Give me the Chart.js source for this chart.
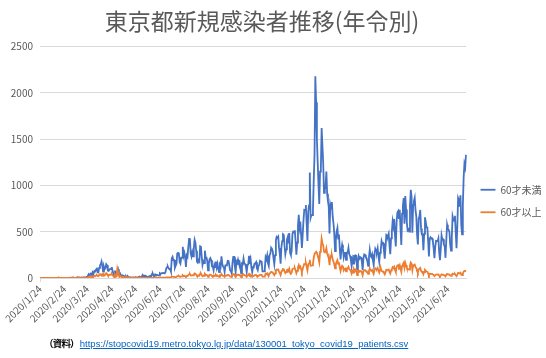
<!DOCTYPE html>
<html lang="ja">
<head>
<meta charset="utf-8">
<title>東京都新規感染者推移(年令別)</title>
<script src="https://cdn.jsdelivr.net/npm/chart.js"></script>
<style>
  html, body { margin: 0; padding: 0; background: #fff; }
  .wrap { position: relative; width: 546px; height: 358px; overflow: hidden; }
  canvas { display: block; }
  .source { position: absolute; left: 44px; top: 336px; font-size: 9.5px; font-family: 'Liberation Sans', 'Noto Sans CJK JP', sans-serif; color: #000; white-space: nowrap; }
  .source b { font-family: 'Noto Sans CJK JP', sans-serif; font-weight: bold; letter-spacing: -0.8px; margin-right: 1px; }
  .source a { color: #0563c1; text-decoration: underline; }
</style>
</head>
<body>
<div class="wrap">
  <canvas id="covidChart" width="546" height="358"></canvas>
  <div class="source"><b>（資料）</b><a href="https://stopcovid19.metro.tokyo.lg.jp/data/130001_tokyo_covid19_patients.csv">https://stopcovid19.metro.tokyo.lg.jp/data/130001_tokyo_covid19_patients.csv</a></div>
</div>
<script>
const START_DATE = '2020-01-24'

const TICK_LABELS = [
  '2020/1/24', '2020/2/24', '2020/3/24', '2020/4/24', '2020/5/24', '2020/6/24',
  '2020/7/24', '2020/8/24', '2020/9/24', '2020/10/24', '2020/11/24', '2020/12/24',
  '2021/1/24', '2021/2/24', '2021/3/24', '2021/4/24', '2021/5/24', '2021/6/24'
]

const SERIES_NAMES = ['60才未満', '60才以上']
const Y_TICKS = [0, 500, 1000, 1500, 2000, 2500]

// daily counts, one row per month
const UNDER_60 = [
  1, 0, 0, 0, 0, 0, 1, 0, // 2020/1 (24-)
  0, 0, 0, 0, 0, 0, 0, 0, 0, 0, 0, 0, 1, 0, 2, 1, 2, 1, 1, 0, 1, 1, 0, 1, 1, 2, 0, 1, 1,
  1, 3, 2, 3, 4, 5, 2, 1, 2, 3, 4, 6, 2, 5, 3, 1, 4, 3, 5, 2, 5, 2, 12, 13, 30, 38, 30, 48, 50, 10, 60,
  50, 75, 70, 90, 112, 62, 60, 110, 138, 148, 178, 128, 68, 122, 95, 112, 150, 138, 80, 76, 90, 98, 96, 118, 74, 52, 28, 80, 33, 30,
  65, 95, 62, 60, 40, 26, 15, 27, 24, 15, 10, 18, 6, 20, 5, 9, 3, 7, 3, 3, 8, 2, 1, 10, 5, 7, 8, 11, 16, 10, 4,
  12, 31, 11, 26, 18, 24, 13, 12, 11, 16, 20, 23, 22, 44, 45, 25, 14, 38, 32, 36, 33, 27, 29, 51, 44, 50, 53, 56, 54, 50,
  63, 101, 117, 124, 105, 96, 99, 70, 210, 228, 194, 194, 111, 133, 153, 266, 272, 268, 173, 155, 219, 219, 337, 239, 271, 219, 119, 244, 229, 335, 423,
  430, 265, 232, 278, 235, 322, 412, 382, 294, 175, 166, 195, 181, 343, 338, 228, 141, 180, 162, 295, 224, 222, 184, 82, 157, 203, 215, 193, 126, 126, 84,
  143, 118, 178, 114, 153, 98, 64, 142, 124, 234, 157, 122, 123, 67, 136, 136, 144, 186, 184, 137, 82, 74, 49, 165, 229, 229, 124, 65, 178, 162,
  198, 164, 174, 120, 49, 155, 148, 209, 156, 151, 123, 65, 139, 148, 240, 154, 198, 111, 65, 116, 125, 155, 156, 171, 104, 85, 132, 143, 186, 181, 176,
  72, 72, 71, 101, 224, 201, 244, 157, 130, 243, 263, 326, 310, 292, 212, 149, 247, 409, 443, 433, 447, 325, 261, 154, 333, 399, 473, 466, 347, 258,
  309, 415, 442, 373, 485, 271, 248, 292, 475, 500, 494, 515, 398, 253, 382, 563, 682, 551, 611, 461, 325, 467, 621, 737, 734, 788, 588, 399, 710, 784, 1140,
  650, 680, 680, 730, 1060, 1330, 2180, 1900, 1500, 1250, 1010, 800, 1150, 1180, 1620, 1430, 1240, 920, 960, 990, 1150, 910, 830, 770, 480, 790, 750, 820, 665, 590, 485,
  290, 410, 500, 540, 425, 470, 315, 200, 300, 360, 315, 225, 270, 270, 195, 275, 275, 325, 258, 238, 198, 130, 200, 155, 248, 197, 245, 240,
  90, 170, 235, 210, 225, 220, 175, 85, 215, 255, 250, 228, 215, 178, 130, 225, 305, 242, 227, 256, 192, 140, 252, 315, 295, 282, 322, 235, 175, 273, 310,
  399, 370, 375, 298, 209, 335, 466, 458, 451, 479, 354, 257, 428, 496, 612, 560, 638, 456, 340, 597, 708, 723, 638, 736, 533, 357, 696, 777, 863, 586,
  885, 741, 598, 515, 526, 501, 770, 953, 878, 488, 790, 830, 866, 734, 665, 468, 362, 635, 666, 735, 536, 470, 469, 299, 478, 656, 605, 548, 546, 400, 232,
  425, 440, 426, 428, 396, 320, 214, 337, 402, 402, 398, 428, 279, 192, 310, 461, 416, 418, 358, 347, 218, 403, 574, 529, 522, 497, 359, 295, 444, 667,
  630, 618, 672, 487, 321, 556, 865, 842, 772, 893, 577, 472, 780, 1082, 1232, 1196, 1330 // 2021/7 (-17)
]

const OVER_60 = [
  0, 1, 0, 0, 0, 0, 0, 0,
  0, 0, 0, 0, 0, 0, 0, 0, 0, 0, 0, 0, 1, 2, 2, 2, 3, 1, 1, 1, 1, 0, 1, 0, 1, 1, 1, 0, 0,
  1, 1, 1, 2, 3, 1, 2, 1, 0, 2, 2, 1, 3, 1, 2, 1, 2, 4, 4, 3, 2, 1, 4, 4, 11, 9, 10, 15, 18, 3, 18,
  16, 22, 19, 26, 31, 21, 19, 34, 40, 41, 27, 38, 23, 39, 32, 37, 51, 43, 27, 26, 33, 34, 38, 43, 29, 20, 11, 32, 14, 16,
  100, 65, 29, 27, 18, 12, 8, 12, 12, 7, 5, 10, 4, 10, 4, 5, 2, 3, 2, 2, 3, 1, 1, 4, 3, 3, 3, 4, 6, 4, 1,
  1, 3, 1, 2, 2, 2, 1, 1, 1, 2, 2, 2, 2, 3, 3, 2, 2, 3, 3, 3, 2, 2, 2, 4, 4, 4, 4, 4, 4, 4,
  4, 6, 7, 7, 6, 6, 7, 5, 14, 15, 12, 12, 8, 10, 12, 20, 21, 22, 15, 13, 18, 19, 29, 21, 24, 20, 12, 22, 21, 32, 40,
  42, 27, 26, 31, 28, 38, 50, 47, 37, 22, 22, 27, 25, 46, 47, 32, 20, 27, 24, 44, 34, 34, 28, 13, 25, 33, 35, 33, 22, 22, 16,
  27, 23, 33, 22, 28, 18, 13, 28, 25, 42, 30, 24, 23, 13, 27, 27, 28, 34, 34, 25, 16, 14, 10, 30, 41, 41, 24, 13, 34, 32,
  37, 32, 33, 23, 10, 30, 29, 39, 30, 29, 23, 13, 27, 29, 44, 30, 37, 21, 13, 23, 25, 30, 30, 32, 20, 17, 26, 28, 35, 34, 33,
  15, 15, 15, 21, 45, 41, 50, 32, 27, 50, 54, 67, 64, 60, 43, 31, 51, 84, 91, 89, 92, 66, 53, 32, 68, 82, 97, 95, 71, 53,
  63, 85, 91, 76, 99, 56, 51, 60, 97, 102, 101, 106, 82, 52, 78, 115, 140, 113, 125, 95, 67, 96, 127, 151, 150, 161, 120, 82, 146, 160, 197,
  133, 134, 136, 154, 218, 261, 272, 282, 268, 244, 209, 170, 283, 322, 424, 379, 352, 284, 280, 284, 321, 265, 240, 216, 138, 236, 223, 244, 203, 179, 148,
  103, 146, 176, 194, 152, 169, 114, 76, 112, 131, 119, 82, 99, 101, 71, 103, 103, 120, 95, 89, 74, 48, 75, 58, 92, 73, 92, 89,
  31, 62, 81, 69, 76, 73, 62, 31, 75, 85, 85, 76, 74, 61, 45, 75, 104, 81, 76, 86, 64, 47, 85, 105, 99, 94, 108, 78, 59, 91, 104,
  76, 70, 71, 57, 40, 64, 89, 87, 86, 91, 67, 49, 82, 95, 117, 107, 121, 87, 65, 114, 135, 138, 121, 140, 102, 68, 132, 148, 164, 112,
  165, 138, 110, 94, 95, 90, 137, 168, 154, 85, 135, 139, 144, 120, 107, 74, 57, 97, 100, 108, 78, 67, 66, 41, 65, 87, 79, 70, 68, 49, 28,
  46, 47, 45, 44, 40, 31, 21, 32, 38, 37, 37, 39, 25, 17, 27, 40, 36, 35, 30, 29, 18, 32, 45, 41, 40, 37, 27, 22, 32, 47,
  43, 42, 44, 31, 21, 37, 55, 54, 50, 57, 37, 30, 50, 67, 76, 75, 80
]

// one category per day starting at START_DATE
const labels = []
const start = new Date(START_DATE + 'T00:00:00Z')
for (let i = 0; i < UNDER_60.length; i++) {
  const d = new Date(start.getTime() + i * 86400000)
  labels.push(`${d.getUTCFullYear()}/${d.getUTCMonth() + 1}/${d.getUTCDate()}`)
}

const FONT = "'Noto Sans CJK JP', 'Noto Sans', sans-serif"
const GRAY = '#595959'
const GRID = '#d9d9d9'

const isTick = i => TICK_LABELS.includes(labels[i])

// move title / legend to where Excel had them
const nudge = {
  id: 'nudge',
  afterLayout(chart) {
    chart.titleBlock.right -= 22
    chart.legend.left += 2
    chart.legend.right += 2
    chart.legend.top += 22
    chart.legend.bottom += 22
  }
}

new Chart(document.getElementById('covidChart'), {
  type: 'line',
  data: {
    labels: labels,
    datasets: [{
      label: SERIES_NAMES[0],
      data: UNDER_60,
      borderColor: '#4472c4',
      backgroundColor: '#4472c4',
      borderWidth: 1.8,
      pointRadius: 0,
      tension: 0,
      order: 1
    }, {
      label: SERIES_NAMES[1],
      data: OVER_60,
      borderColor: '#ed7d31',
      backgroundColor: '#ed7d31',
      borderWidth: 1.8,
      pointRadius: 0,
      tension: 0,
      order: 0
    }]
  },
  options: {
    responsive: false,
    animation: false,
    layout: {
      padding: { left: 0, right: 0, top: 0, bottom: 0 }
    },
    plugins: {
      title: {
        display: true,
        text: '東京都新規感染者推移(年令別)',
        color: GRAY,
        font: { family: FONT, size: 23, weight: 'normal' },
        padding: { top: 7, bottom: 12 }
      },
      legend: {
        position: 'right',
        maxWidth: 80,
        labels: {
          usePointStyle: true,
          pointStyle: 'line',
          pointStyleWidth: 15,
          color: GRAY,
          font: { family: FONT, size: 10 },
          padding: 12.5,
          sort: (a, b) => a.datasetIndex - b.datasetIndex
        }
      },
      tooltip: {
        enabled: false
      }
    },
    scales: {
      x: {
        offset: false,
        afterFit: scale => { scale.height = 80 },
        ticks: {
          autoSkip: false,
          minRotation: 45,
          maxRotation: 45,
          padding: 1,
          color: GRAY,
          font: { family: FONT, size: 10 },
          callback: (value, index) => isTick(index) ? labels[index] : null
        },
        grid: {
          drawOnChartArea: false,
          tickLength: 4,
          color: ctx => isTick(ctx.index) ? GRID : 'rgba(0, 0, 0, 0)'
        },
        border: {
          color: GRID
        }
      },
      y: {
        min: 0,
        max: 2500,
        afterFit: scale => { scale.width = 40 },
        afterBuildTicks: scale => { scale.ticks = Y_TICKS.map(v => ({ value: v })) },
        ticks: {
          padding: 7,
          color: GRAY,
          font: { family: FONT, size: 10 },
          callback: value => String(value)
        },
        grid: {
          color: GRID,
          drawTicks: false
        },
        border: {
          display: false
        }
      }
    }
  },
  plugins: [nudge]
})
</script>
</body>
</html>
